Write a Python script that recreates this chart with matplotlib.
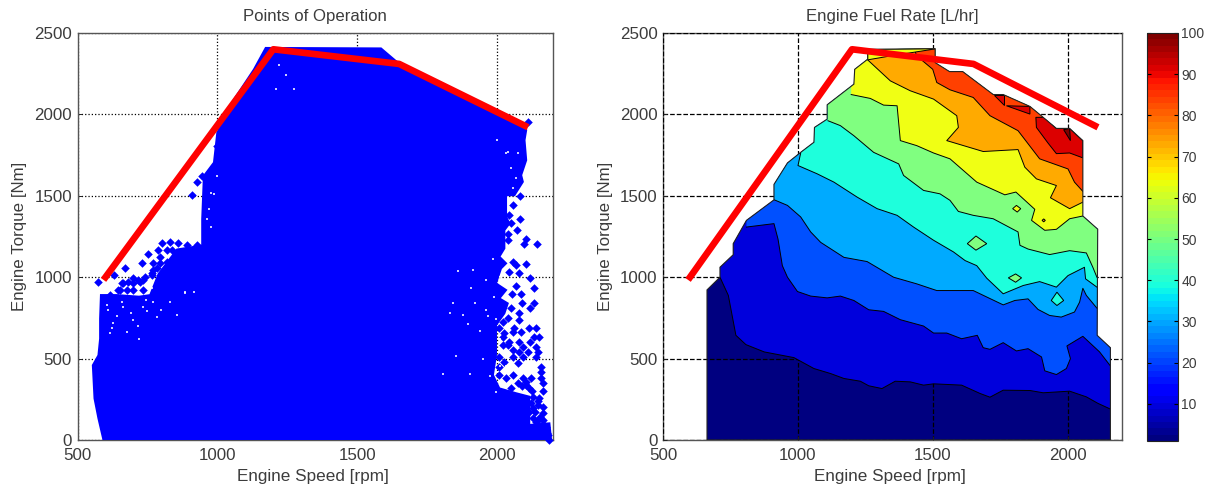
import matplotlib
matplotlib.use("Agg")
import matplotlib.pyplot as plt
import numpy as np
from matplotlib.cm import ScalarMappable
from matplotlib.colors import Normalize
from matplotlib.patches import Polygon

plt.rcParams["font.family"] = ["Liberation Sans", "DejaVu Sans"]

# red limit curve, both panels
limit_speed = [600, 1200, 1650, 2100]
limit_torque = [1000, 2400, 2310, 1930]

# left panel: outline of the solid cloud of points
cloud_speed = [593, 575, 561, 555, 575, 581, 581, 584, 640, 720, 760, 790, 856, 946, 946, 952, 988, 1000,
               1060, 1131, 1173, 1585, 1650, 1800, 2100, 2104, 2098, 2104, 2086, 2092, 2062, 2032, 2032,
               2044, 2026, 2026, 2008, 2032, 2014, 1996, 2032, 2008, 2038, 2026, 1996, 1996, 1996, 1985,
               2008, 2068, 2115, 2115, 2187, 2193]
cloud_torque = [0, 133, 255, 459, 520, 622, 745, 890, 890, 880, 890, 1020, 1170, 1194, 1357, 1622, 1704, 1888,
                2092, 2276, 2408, 2405, 2310, 2170, 1930, 1904, 1842, 1719, 1627, 1586, 1504, 1504, 1371,
                1330, 1289, 1177, 1126, 1085, 1054, 962, 921, 870, 839, 778, 706, 604, 522, 399,
                317, 287, 266, 92, 102, 0]

# left panel: loose points outside the solid cloud
loose_speed = [575, 631, 670, 729, 753, 771, 801, 831, 789, 819, 837, 860, 890, 926, 664, 700, 735, 652, 700,
               735, 616, 765, 795, 819, 723, 910, 928, 946, 1012, 1000, 1018,
               658, 682, 700, 676, 646, 717, 741, 765, 783, 771, 795, 819,
               2110, 2056, 2082, 2082, 2070, 2038, 2038, 2104, 2098, 2142, 2042, 2056, 2068, 2104, 2050,
               2042, 2077, 2116, 2133, 2006, 2054, 2086, 2068, 2089, 2133, 2118, 2050, 2080, 2038, 2077,
               2020, 2062, 2086, 2113, 2139, 2056, 2133, 2151, 2026, 2008, 2020, 2044, 2080, 2116, 2038,
               2056, 2092, 2139, 2145, 2110, 2020, 2080,
               2008, 2056, 2092, 2139, 2026, 2074, 2008, 2157, 2157, 2056, 2092, 2121, 2157, 2032, 2008,
               2074, 2104, 2163, 2050, 2115, 2163, 2127, 2151, 2145, 2127, 2163, 2115, 2127, 2145, 2163,
               2175, 2139, 2121, 2181, 2151, 2187,
               2140, 2165, 2120, 2145, 2165, 2125, 2105, 2090, 2135, 2170, 2155, 2135, 2178]
loose_torque = [972, 1013, 1054, 1089, 1142, 1085, 1208, 1218, 1167, 1167, 1167, 1208, 1197, 1197, 962, 993, 982, 921, 921,
                921, 890, 1023, 1085, 1095, 972, 1506, 1586, 1622, 1684, 1806, 1816,
                962, 972, 962, 921, 921, 982, 1003, 1013, 1054, 1044, 1126, 1054,
                1955, 1443, 1498, 1355, 1289, 1263, 1228, 1232, 1203, 1203, 1382, 1095, 1075, 1081, 1330,
                1034, 1028, 993, 931, 925, 897, 897, 946, 843, 843, 809, 809, 778, 747, 737,
                727, 686, 665, 686, 686, 665, 635, 635, 655, 686, 635, 604, 604, 604, 583,
                553, 573, 569, 542, 542, 583, 542,
                512, 512, 512, 512, 481, 471, 450, 450, 420, 399, 379, 379, 379, 379, 399,
                348, 358, 348, 317, 317, 301, 266, 256, 215, 195, 164, 174, 133, 123, 123,
                82, 72, 41, 31, 31, 0,
                110, 100, 230, 240, 200, 300, 340, 330, 60, 50, 140, 170, 40]

# left panel: white specks inside the cloud
speck_speed = [976, 988, 970, 976, 964, 1000, 664, 628, 616, 700, 771, 884, 765, 735, 831, 854, 783, 604, 640, 690,
               750, 800, 886, 916, 677, 719, 610, 625, 660, 715, 745,
               2038, 2032, 2074, 2050, 2068, 2056, 2000, 1908, 1842, 1896, 1967, 1997, 1950, 1854, 2009, 2033,
               1997, 1973, 1807, 1902, 1914, 1961, 1831, 2009, 2010, 1985, 1990, 1960, 1940, 1920, 1880, 1860,
               1221, 1245, 1209, 1275]
speck_torque = [1520, 1510, 1418, 1306, 1357, 1622, 819, 716, 655, 737, 849, 900, 931, 819, 849, 767, 757, 829, 760, 780,
                790, 800, 908, 908, 663, 622, 800, 690, 850, 700, 860,
                1770, 1760, 1760, 1668, 1607, 1545, 1840, 934, 842, 710, 761, 741, 497, 517, 456, 456,
                293, 395, 405, 405, 1046, 985, 781, 619, 1000, 1110, 880, 800, 670, 840, 770, 1040,
                2306, 2245, 2153, 2153]

# right panel: outer edge of the fuel rate map
map_speed = [663, 663, 711, 711, 760, 760, 809, 911, 911, 961, 1010, 1059, 1061, 1108, 1108, 1207, 1210, 1258,
             1258, 1508, 1508, 1561, 1610, 1723, 1760, 1859, 1908, 1957, 2006, 2055, 2055, 2110, 2108, 2157, 2157]
map_torque = [0, 922, 1000, 1061, 1138, 1206, 1349, 1475, 1570, 1702, 1767, 1829, 1920, 1971, 2059, 2186, 2277, 2339,
              2400, 2404, 2318, 2263, 2263, 2122, 2122, 2049, 1982, 1914, 1914, 1839, 1376, 1295, 643, 567, 0]

# right panel: contour lines of fuel rate
speed_10 = [711, 742, 770, 807, 875, 985, 1059, 1121, 1170, 1231, 1262, 1311, 1360, 1416, 1465, 1502, 1606,
            1674, 1711, 1760, 1859, 1908, 2006, 2068, 2111, 2157]
torque_10 = [1000, 888, 643, 586, 541, 506, 439, 408, 378, 361, 333, 316, 361, 357, 337, 345, 337,
             286, 263, 306, 304, 290, 300, 265, 225, 190]

speed_20 = [809, 911, 926, 942, 961, 998, 1047, 1108, 1157, 1207, 1262, 1317, 1379, 1465, 1502, 1551, 1606, 1664,
            1686, 1711, 1760, 1809, 1852, 1902, 1914, 1957, 1994, 2009, 1996, 2055, 2117, 2157]
torque_20 = [1308, 1329, 1234, 1071, 1000, 912, 884, 873, 884, 857, 800, 790, 739, 700, 657, 657, 622, 643,
             567, 557, 598, 547, 561, 510, 425, 402, 439, 500, 578, 637, 541, 455]

speed_30 = [911, 961, 1010, 1047, 1084, 1170, 1256, 1354, 1440, 1514, 1649, 1760, 1803, 1852, 1889, 1932, 1975,
            2024, 2043, 2055, 2068, 2107, 2125]
torque_30 = [1476, 1441, 1370, 1278, 1214, 1122, 1096, 1000, 959, 918, 918, 830, 857, 867, 802, 765, 755,
             786, 847, 932, 888, 810, 790]

speed_40 = [1010, 1000, 1071, 1133, 1219, 1293, 1367, 1428, 1502, 1576, 1619, 1662, 1699, 1760, 1834, 1895, 1957,
            2000, 2061, 2065, 2107, 2125]
torque_40 = [1763, 1686, 1635, 1584, 1492, 1421, 1380, 1308, 1227, 1155, 1102, 1071, 994, 898, 949, 973, 939,
             1010, 1061, 990, 939, 920]

speed_50 = [1111, 1157, 1207, 1280, 1373, 1391, 1465, 1526, 1563, 1594, 1649, 1723, 1815, 1822, 1852, 1932, 2006,
            2068, 2092, 2107, 2125]
torque_50 = [1961, 1931, 1869, 1767, 1696, 1625, 1533, 1512, 1472, 1404, 1380, 1359, 1278, 1196, 1173, 1139, 1163,
             1149, 1061, 1000, 970]

speed_60 = [1197, 1268, 1317, 1367, 1379, 1440, 1502, 1563, 1662, 1766, 1807, 1877, 1865, 1914, 1957, 2006, 2055, 2075]
torque_60 = [2122, 2098, 2057, 2053, 1839, 1808, 1763, 1727, 1584, 1506, 1523, 1417, 1349, 1288, 1294, 1359, 1376, 1376]

speed_70 = [1258, 1342, 1416, 1502, 1588, 1594, 1551, 1686, 1815, 1840, 1883, 1957, 1935, 2006, 2055, 2075]
torque_70 = [2335, 2206, 2145, 2094, 1992, 1920, 1839, 1772, 1784, 1676, 1604, 1563, 1488, 1421, 1461, 1470]

speed_80 = [1430, 1440, 1499, 1514, 1563, 1649, 1711, 1815, 1895, 2000, 2024, 2055, 2075]
torque_80 = [2400, 2359, 2277, 2196, 2151, 2104, 1992, 1900, 1727, 1665, 1584, 1527, 1510]

# right panel: closed islands, one (level, speeds, torques) per island
island_levels = [60, 90, 90, 90, 100, 60, 50, 50, 40, 70]
island_speeds = [[1258, 1515, 1342, 1258], [1881, 1914, 1957, 2006, 2055, 2055, 2006, 1957, 1926, 1883],
                 [1726, 1762, 1762], [1772, 1859, 1859], [1984, 2006, 2009],
                 [1795, 1809, 1825, 1812], [1627, 1659, 1699, 1659], [1779, 1806, 1828, 1806],
                 [1938, 1959, 1984, 1959], [1904, 1910, 1916, 1910]]
island_torques = [[2400, 2404, 2359, 2335], [1982, 1982, 1914, 1914, 1839, 1733, 1763, 1759, 1824, 1920],
                  [2122, 2122, 2057], [2053, 2049, 2002], [1906, 1914, 1839],
                  [1421, 1441, 1421, 1400], [1206, 1253, 1206, 1166], [996, 1020, 996, 969],
                  [857, 908, 857, 826], [1349, 1358, 1349, 1340]]

level_lines = [(10, speed_10, torque_10), (20, speed_20, torque_20), (30, speed_30, torque_30),
               (40, speed_40, torque_40), (50, speed_50, torque_50), (60, speed_60, torque_60),
               (70, speed_70, torque_70), (80, speed_80, torque_80)]

x_ticks = [500, 1000, 1500, 2000]
y_ticks = [0, 500, 1000, 1500, 2000, 2500]
bar_ticks = [10, 20, 30, 40, 50, 60, 70, 80, 90, 100]

# fill colour of each contour band, named by its lower level
band_colors = {1: "#000080", 10: "#0000dc", 20: "#0050ff", 30: "#00aaff", 40: "#1effdc", 50: "#80ff80",
               60: "#f0ff14", 70: "#ffaa00", 80: "#ff4000", 90: "#dc0000", 100: "#800000"}

W, H = 1209, 490
TEXT = "#3c3c3c"
EDGE = "#555555"


def px_axes(fig, left, right, top, bottom):
    return fig.add_axes([left / W, 1 - bottom / H, (right - left) / W, (bottom - top) / H])


def style_axes(ax, title, ls, below):
    ax.set_xlim(500, 2200)
    ax.set_ylim(0, 2500)
    ax.set_xticks(x_ticks)
    ax.set_yticks(y_ticks)
    ax.tick_params(direction="in", length=3, width=0.7, labelsize=12.2, labelcolor=TEXT, color="#222222", pad=4)
    ax.tick_params(axis="x", pad=6)
    ax.grid(True, color="black", linestyle=ls, linewidth=0.9)
    ax.set_axisbelow(below)
    ax.set_xlabel("Engine Speed [rpm]", fontsize=12.3, color=TEXT, labelpad=4, x=0.495)
    ax.set_ylabel("Engine Torque [Nm]", fontsize=12.2, color=TEXT, labelpad=5)
    ax.set_title(title, fontsize=12.1, color=TEXT, pad=8.5)
    for spine in ax.spines.values():
        spine.set_color(EDGE)
        spine.set_linewidth(1.0)


fig = plt.figure(figsize=(W / 100, H / 100), dpi=100)
blue = "#0000ff"

# left panel
ax1 = px_axes(fig, 77.5, 553, 33, 440)
ax1.fill(cloud_speed, cloud_torque, color=blue, linewidth=1.5, zorder=3)
ax1.scatter(loose_speed, loose_torque, marker="D", s=19, color=blue, linewidths=0, zorder=3, clip_on=False)
ax1.scatter(speck_speed, speck_torque, marker="s", s=4, color="white", alpha=0.8, linewidths=0, zorder=4)
style_axes(ax1, "Points of Operation", ":", True)
ax1.plot(limit_speed, limit_torque, color="#ff0000", linewidth=4.8, zorder=30)

# right panel
ax2 = px_axes(fig, 663, 1122, 33, 440)
edge_patch = Polygon(np.column_stack([map_speed, map_torque]), closed=True, transform=ax2.transData)
ax2.fill(map_speed, map_torque, color=band_colors[1], linewidth=0, zorder=2)
for level, speeds, torques in level_lines:
    band_x = list(speeds) + [2300, speeds[0]]
    band_y = list(torques) + [2600, 2600]
    band = ax2.fill(band_x, band_y, color=band_colors[level], linewidth=0, zorder=3)[0]
    band.set_clip_path(edge_patch)
    line = ax2.plot(speeds, torques, color="black", linewidth=0.7, zorder=4)[0]
    line.set_clip_path(edge_patch)
for level, speeds, torques in zip(island_levels, island_speeds, island_torques):
    island = ax2.fill(speeds, torques, facecolor=band_colors[level], edgecolor="black", linewidth=0.7, zorder=5)[0]
    island.set_clip_path(edge_patch)
ax2.fill(map_speed, map_torque, facecolor="none", edgecolor="#222222", linewidth=0.8, zorder=6)
style_axes(ax2, "Engine Fuel Rate [L/hr]", "--", False)
ax2.plot(limit_speed, limit_torque, color="#ff0000", linewidth=4.8, zorder=30)

# colour bar
cax = px_axes(fig, 1147, 1178, 33, 441)
cbar = fig.colorbar(ScalarMappable(norm=Normalize(1, 100), cmap=plt.get_cmap("jet", 64)), cax=cax)
cbar.set_ticks(bar_ticks)
cbar.ax.tick_params(direction="in", length=3, width=0.8, labelsize=10, labelcolor=TEXT, color="black", pad=2.5,
                    left=True, right=True)
cbar.outline.set_edgecolor("#222222")
cbar.outline.set_linewidth(0.8)

fig.savefig("out.png", dpi=100)
